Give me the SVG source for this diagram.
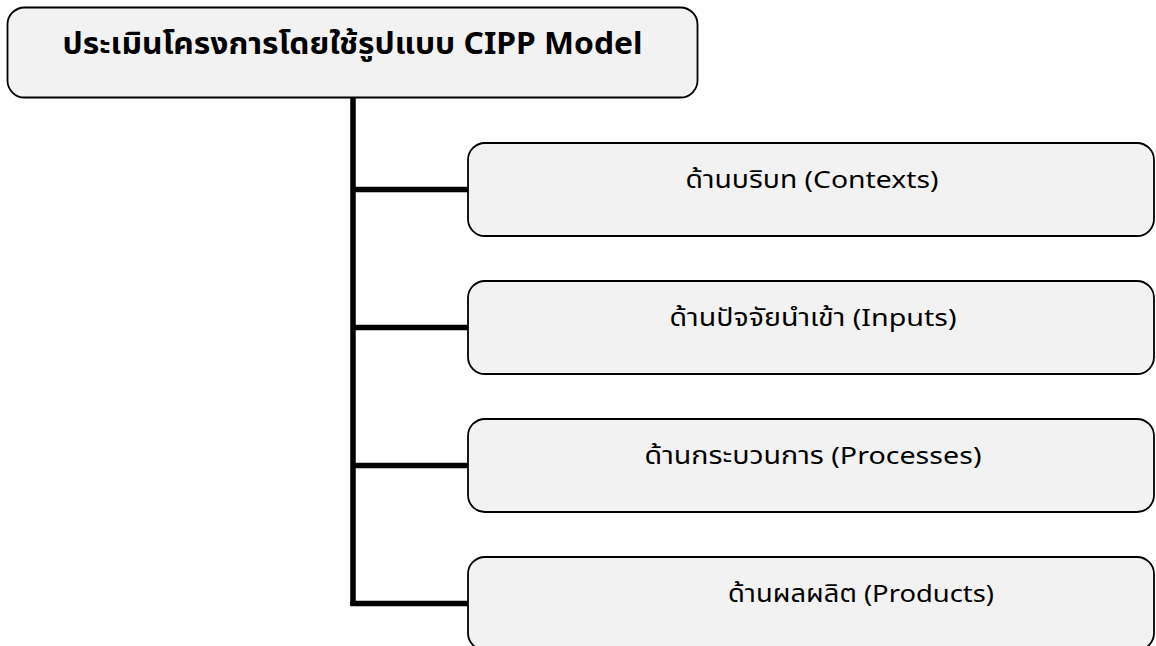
<svg xmlns="http://www.w3.org/2000/svg" width="1156" height="646" viewBox="0 0 1156 646">
<style>
.box{fill:#f2f2f2;stroke:#000;stroke-width:1.8}
.t{font-family:"Noto Sans","Noto Sans Thai","DejaVu Sans",sans-serif;fill:#000;text-anchor:middle}
.title{font-size:30px;font-weight:bold}
.lbl{font-size:24px}
.conn{stroke:#000;stroke-width:5.5;fill:none}
</style>
<rect width="1156" height="646" fill="#fff"/>
<g id="connectors">
<path class="conn" d="M353 98 V606"/>
<path class="conn" d="M353 189.5 H468"/>
<path class="conn" d="M353 327.5 H468"/>
<path class="conn" d="M353 465.5 H468"/>
<path class="conn" d="M350.5 603.5 H468"/>
</g>
<g id="title">
<rect class="box" x="7.5" y="7.5" width="690" height="90" rx="17"/>
<text class="t title" x="352.5" y="54" textLength="580" lengthAdjust="spacingAndGlyphs">ประเมินโครงการโดยใช้รูปแบบ CIPP Model</text>
</g>
<g id="contexts">
<rect class="box" x="468" y="143" width="686" height="93" rx="17"/>
<text class="t lbl" x="812" y="188" textLength="253" lengthAdjust="spacingAndGlyphs">ด้านบริบท (Contexts)</text>
</g>
<g id="inputs">
<rect class="box" x="468" y="281" width="686" height="93" rx="17"/>
<text class="t lbl" x="813" y="326" textLength="287" lengthAdjust="spacingAndGlyphs">ด้านปัจจัยนำเข้า (Inputs)</text>
</g>
<g id="processes">
<rect class="box" x="468" y="419" width="686" height="93" rx="17"/>
<text class="t lbl" x="813" y="464" textLength="337" lengthAdjust="spacingAndGlyphs">ด้านกระบวนการ (Processes)</text>
</g>
<g id="products">
<rect class="box" x="468" y="557" width="686" height="93" rx="17"/>
<text class="t lbl" x="861" y="602" textLength="266" lengthAdjust="spacingAndGlyphs">ด้านผลผลิต (Products)</text>
</g>
</svg>
